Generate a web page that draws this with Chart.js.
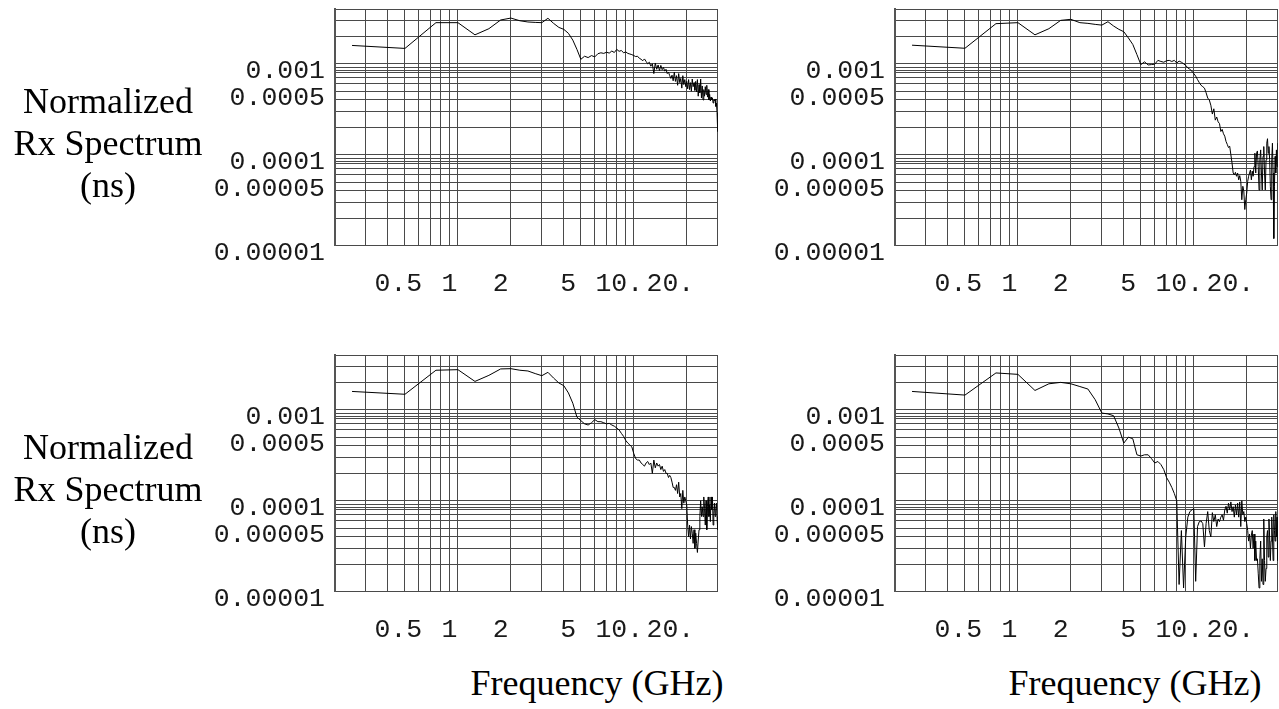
<!DOCTYPE html>
<html>
<head>
<meta charset="utf-8">
<script src="https://cdn.jsdelivr.net/npm/chart.js@4.4.1/dist/chart.umd.min.js"></script>
<style>
  body { margin: 0; width: 1279px; height: 709px; overflow: hidden; background: #fff; position: relative; }
  canvas { position: absolute; }
  .ytitulo { position: absolute; left: 0; width: 216px; text-align: center; font: 36px "Liberation Serif", serif; line-height: 42px; color: #000; }
  .xtitulo { position: absolute; width: 280px; text-align: center; font: 36px "Liberation Serif", serif; line-height: 42px; color: #000; white-space: nowrap; }
</style>
</head>
<body>
<canvas id="graph_a" width="719" height="310" style="left:0px;top:0px"></canvas>
<canvas id="graph_b" width="719" height="310" style="left:560px;top:0px"></canvas>
<canvas id="graph_c" width="719" height="310" style="left:0px;top:346px"></canvas>
<canvas id="graph_d" width="719" height="310" style="left:560px;top:346px"></canvas>

<div class="ytitulo" style="top:80px">Normalized<br>Rx Spectrum<br>(ns)</div>
<div class="ytitulo" style="top:426px">Normalized<br>Rx Spectrum<br>(ns)</div>
<div class="xtitulo" style="left:457px;top:662px">Frequency (GHz)</div>
<div class="xtitulo" style="left:995px;top:662px">Frequency (GHz)</div>

<script>
// frequencias (GHz), passo de 0.25
const freq = [
  0.25, 0.5, 0.75, 1, 1.25, 1.5, 1.75, 2, 2.25, 2.5,
  2.75, 3, 3.25, 3.5, 3.75, 4, 4.25, 4.5, 4.75, 5,
  5.25, 5.5, 5.75, 6, 6.25, 6.5, 6.75, 7, 7.25, 7.5,
  7.75, 8, 8.25, 8.5, 8.75, 9, 9.25, 9.5, 9.75, 10,
  10.25, 10.5, 10.75, 11, 11.25, 11.5, 11.75, 12, 12.25, 12.5,
  12.75, 13, 13.25, 13.5, 13.75, 14, 14.25, 14.5, 14.75, 15,
  15.25, 15.5, 15.75, 16, 16.25, 16.5, 16.75, 17, 17.25, 17.5,
  17.75, 18, 18.25, 18.5, 18.75, 19, 19.25, 19.5, 19.75, 20,
  20.25, 20.5, 20.75, 21, 21.25, 21.5, 21.75, 22, 22.25, 22.5,
  22.75, 23, 23.25, 23.5, 23.75, 24, 24.25, 24.5, 24.75, 25,
  25.25, 25.5, 25.75, 26, 26.25, 26.5, 26.75, 27, 27.25, 27.5,
  27.75, 28, 28.25, 28.5, 28.75, 29, 29.25, 29.5, 29.75, 30
];

const espectro_a = [
  0.00159, 0.001475, 0.00283, 0.00283, 0.00208, 0.00243, 0.00303, 0.00318, 0.00297, 0.00288,
  0.00285, 0.00283, 0.00316, 0.00278, 0.00251, 0.00239, 0.00216, 0.00182, 0.00144, 0.00112,
  0.00121, 0.00117, 0.00123, 0.00119, 0.00129, 0.00132, 0.0013, 0.00134, 0.00131, 0.00138,
  0.00133, 0.00144, 0.00137, 0.0014, 0.00132, 0.00135, 0.0013, 0.00128, 0.00126, 0.00123,
  0.0012, 0.00121, 0.00115, 0.00112, 0.00108, 0.00113, 0.00106, 0.001, 0.00104, 0.00094,
  0.001, 0.00078, 0.00102, 0.00087, 0.00097, 0.00084, 0.00096, 0.00086, 0.00091, 0.00083,
  0.00087, 0.00078, 0.00081, 0.00074, 0.00069, 0.00075, 0.00065, 0.00081, 0.00064, 0.00074,
  0.00058, 0.00078, 0.00062, 0.00069, 0.00054, 0.00074, 0.00059, 0.00067, 0.00056, 0.00064,
  0.00053, 0.00067, 0.00052, 0.00062, 0.0005, 0.00068, 0.00056, 0.00062, 0.00051, 0.00064,
  0.00049, 0.00067, 0.00044, 0.00059, 0.00048, 0.00068, 0.00042, 0.00057, 0.0004, 0.00052,
  0.00044, 0.00056, 0.00046, 0.00058, 0.00043, 0.00052, 0.0004, 0.00046, 0.00039, 0.00043,
  0.0004, 0.00042, 0.00037, 0.0004, 0.00039, 0.00041, 0.00034, 0.00037, 0.00029, 0.00018
];

const espectro_b = [
  0.0016, 0.00148, 0.00276, 0.00283, 0.00208, 0.00243, 0.003, 0.00308, 0.00283, 0.00278,
  0.00271, 0.00266, 0.0029, 0.0026, 0.00239, 0.00225, 0.00192, 0.00163, 0.00126, 0.00098,
  0.00105, 0.00097, 0.00098, 0.00099, 0.00109, 0.00106, 0.00104, 0.00108, 0.00109, 0.00106,
  0.00109, 0.00102, 0.00107, 0.00104, 0.001, 0.00096, 0.0009, 0.00087, 0.00083, 0.00078,
  0.00073, 0.00067, 0.00062, 0.00058, 0.00056, 0.00054, 0.00048, 0.00042, 0.0004, 0.00035,
  0.00028, 0.00032, 0.00024, 0.00026, 0.00023, 0.00022, 0.00018, 0.00019, 0.00017, 0.00016,
  0.00014, 0.00013, 0.00012, 0.000124, 0.0001, 0.000081, 0.000063, 0.00006, 0.000064, 0.000058,
  0.000063, 0.000053, 0.000059, 0.000051, 0.000032, 0.000045, 0.00004, 0.000025, 0.000032, 0.000038,
  0.000051, 0.000058, 0.000063, 0.000068, 0.000053, 0.000066, 0.000058, 0.000074, 0.000104, 0.000063,
  0.000104, 0.00011, 0.000074, 0.000041, 0.000088, 0.000113, 0.000063, 0.000041, 0.000096, 0.000123,
  0.000063, 0.000041, 0.000088, 0.000134, 0.00015, 0.000104, 0.000123, 0.000088, 0.000045, 0.000032,
  0.000088, 0.000134, 0.000063, 0.000012, 0.000045, 0.000096, 0.000063, 0.000113, 0.000074, 0.000134
];

const espectro_c = [
  0.00159, 0.00148, 0.00272, 0.00276, 0.00205, 0.00239, 0.00281, 0.00283, 0.00272, 0.00267,
  0.0025, 0.00237, 0.00258, 0.00223, 0.00197, 0.00184, 0.00153, 0.00118, 0.00083, 0.00076,
  0.0007, 0.00068, 0.00072, 0.00078, 0.00074, 0.00074, 0.00072, 0.0007, 0.00071, 0.00068,
  0.00066, 0.00063, 0.0006, 0.00055, 0.00051, 0.00046, 0.00043, 0.00041, 0.00039, 0.00033,
  0.00029, 0.00028, 0.00028, 0.00026, 0.00025, 0.00024, 0.00026, 0.00027, 0.00025, 0.00026,
  0.0002, 0.00028, 0.00023, 0.00026, 0.00024, 0.00025, 0.00022, 0.00024, 0.00021, 0.00022,
  0.0002, 0.0002, 0.00018, 0.00019, 0.00018, 0.00016, 0.00014, 0.00014, 0.00013, 0.00015,
  0.00012, 0.00016, 0.00011, 0.00012, 0.000082, 0.00013, 0.000094, 0.00011, 0.0001, 0.00009,
  0.000054, 0.00004, 0.000054, 0.000038, 0.000052, 0.000044, 0.000034, 0.000048, 0.00003, 0.000044,
  0.000034, 0.000027, 0.000037, 0.000048, 0.000067, 0.0001, 0.000067, 0.000086, 0.000067, 0.00011,
  0.000082, 0.000054, 0.0001, 0.000048, 0.000086, 0.00011, 0.000067, 0.00009, 0.000059, 0.00011,
  0.00008, 0.00011, 0.000054, 0.000073, 0.000094, 0.000067, 0.00008, 0.000094, 0.000067, 0.000048
];

const espectro_d = [
  0.00159, 0.00145, 0.00254, 0.00245, 0.00163, 0.00193, 0.002, 0.00193, 0.0018, 0.00169,
  0.00129, 0.00092, 0.0009, 0.00086, 0.00063, 0.00043, 0.0005, 0.00048, 0.00032, 0.00031,
  0.00032, 0.00032, 0.00029, 0.00026, 0.00027, 0.00025, 0.00022, 0.00018, 0.00016, 0.00014,
  0.00012, 0.0001, 0.000012, 0.000047, 0.000011, 0.00004, 0.000066, 0.000076, 0.000079, 0.000082,
  0.000013, 0.000052, 0.000059, 0.00006, 0.000056, 0.000031, 0.000056, 0.000076, 0.000047, 0.00004,
  0.000074, 0.000059, 0.00007, 0.000052, 0.000063, 0.000059, 0.000066, 0.00007, 0.000061, 0.000079,
  0.000087, 0.000073, 0.000094, 0.000079, 0.000097, 0.000076, 0.000086, 0.000066, 0.00009, 0.00007,
  0.000094, 0.000066, 0.000097, 0.000052, 0.0001, 0.00007, 0.000076, 0.000059, 0.000066, 0.000056,
  0.000047, 0.000036, 0.000043, 0.00003, 0.000042, 0.000047, 0.00003, 0.000043, 0.000022, 0.000036,
  0.000022, 0.000023, 0.000016, 0.000011, 0.000023, 0.000036, 0.000013, 0.000023, 0.000012, 0.000063,
  0.000022, 0.000013, 0.000018, 0.00004, 0.000047, 0.000024, 0.000063, 0.00004, 0.000022, 0.000036,
  0.000066, 0.00004, 0.000022, 0.00007, 0.000047, 0.000036, 0.000076, 0.00004, 0.000066, 0.000022
];

// linhas da grade e rotulos dos eixos
const xGrade = [0.2, 0.3, 0.4, 0.5, 0.6, 0.7, 0.8, 0.9, 1, 2, 3, 4, 5, 6, 7, 8, 9, 10, 20, 30];
const xTicks = [0.5, 1, 2, 5, 10, 20];
const xRotulos = ['0.5', '1', '2', '5', '10.', '20.'];
const yGrade = [
  0.004, 0.003, 0.002,
  0.001, 0.0009, 0.00085, 0.0008, 0.0007, 0.0006, 0.0005, 0.0004, 0.0003, 0.0002,
  0.0001, 0.00009, 0.000085, 0.00008, 0.00007, 0.00006, 0.00005, 0.00004, 0.00003, 0.00002,
  0.00001
];
const yTicks = [0.001, 0.0005, 0.0001, 0.00005, 0.00001];
const yRotulos = ['0.001', '0.0005', '0.0001', '0.00005', '0.00001'];

const fonte_mono = { family: '"Liberation Mono", "DejaVu Sans Mono", monospace', size: 26.5 };
const cor_grade = '#4a4a4a';

function renderiza_painel(id, valores) {
  const ctx = document.getElementById(id).getContext('2d');
  const pontos = freq.map((f, i) => ({ x: f, y: valores[i] }));
  return new Chart(ctx, {
    type: 'line',
    data: {
      datasets: [{
        data: pontos,
        borderColor: '#000',
        borderWidth: 1,
        pointRadius: 0,
        tension: 0,
        fill: false
      }]
    },
    options: {
      responsive: false,
      animation: false,
      devicePixelRatio: 1,
      layout: { padding: { left: 0, top: 9, right: 1.3, bottom: 4.3 } },
      plugins: { legend: { display: false }, tooltip: { enabled: false } },
      scales: {
        x: {
          type: 'logarithmic', position: 'bottom', min: 0.2, max: 30,
          afterBuildTicks: s => { s.ticks = xGrade.map(v => ({ value: v })); },
          ticks: { display: false, autoSkip: false },
          grid: { color: cor_grade, lineWidth: 1, drawTicks: false },
          border: { display: false },
          afterFit: s => { s.height = 0; s.paddingLeft = 0; s.paddingRight = 0; }
        },
        xl: {
          type: 'logarithmic', position: 'bottom', min: 0.2117, max: 37.97,
          afterBuildTicks: s => { s.ticks = xTicks.map(v => ({ value: v })); },
          ticks: {
            autoSkip: false, maxRotation: 0, padding: 22, color: '#1a1a1a', font: fonte_mono,
            callback: (v) => { const k = xTicks.indexOf(v); return k >= 0 ? xRotulos[k] : ''; }
          },
          grid: { display: false, drawTicks: false },
          border: { display: false },
          afterFit: s => { s.height = 60; s.paddingLeft = 0; s.paddingRight = 0; }
        },
        y: {
          type: 'logarithmic', position: 'left', min: 0.00001, max: 0.004,
          afterBuildTicks: s => { s.ticks = yGrade.map(v => ({ value: v })); },
          ticks: {
            autoSkip: false, padding: 10, labelOffset: 7, color: '#1a1a1a', font: fonte_mono,
            callback: (v) => { const k = yTicks.indexOf(v); return k >= 0 ? yRotulos[k] : ''; }
          },
          grid: { color: cor_grade, lineWidth: 1, drawTicks: false },
          border: { color: '#555', width: 2 },
          afterFit: s => { s.width = 335; s.paddingTop = 0; s.paddingBottom = 0; }
        }
      }
    }
  });
}

renderiza_painel('graph_a', espectro_a);
renderiza_painel('graph_b', espectro_b);
renderiza_painel('graph_c', espectro_c);
renderiza_painel('graph_d', espectro_d);
</script>
</body>
</html>
